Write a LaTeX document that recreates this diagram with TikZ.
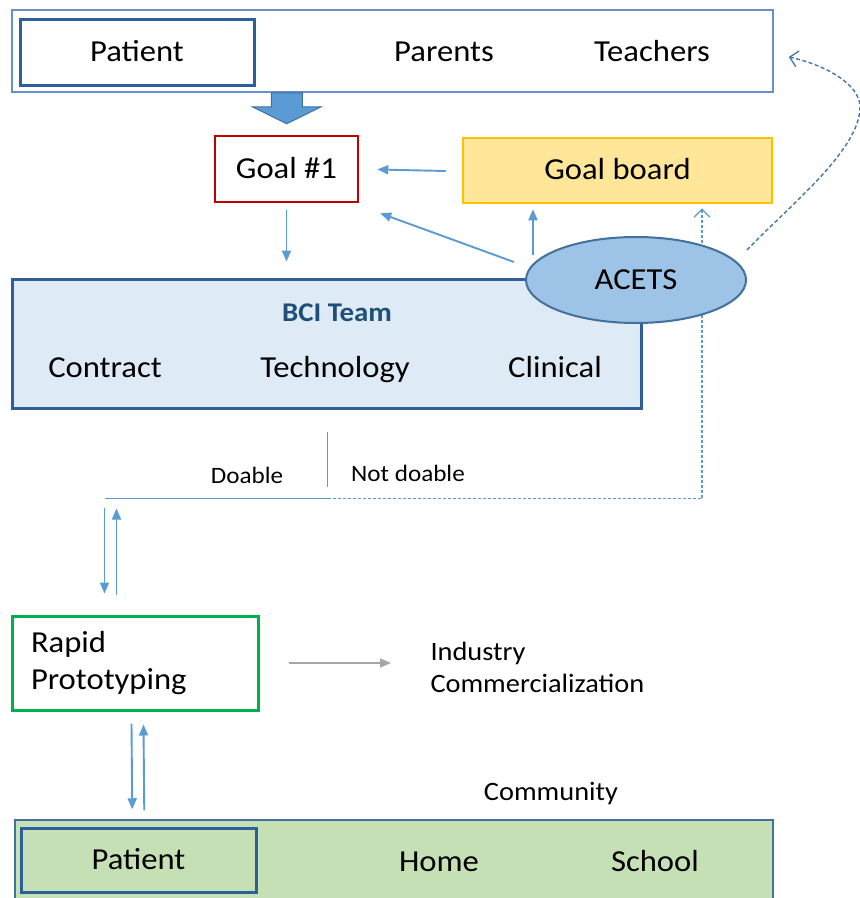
\documentclass[tikz,border=0pt]{standalone}
\usepackage{fontspec}
\setmainfont{Carlito}[FakeStretch=1.07]
\usetikzlibrary{arrows.meta,calc,shapes.geometric}
\definecolor{frameblue}{HTML}{6A8FC6}
\definecolor{darkblue}{HTML}{2F5F98}
\definecolor{goalred}{HTML}{C00000}
\definecolor{gbfill}{HTML}{FFE699}
\definecolor{gbdraw}{HTML}{FFC000}
\definecolor{arrblue}{HTML}{5B9BD5}
\definecolor{ellfill}{HTML}{9DC3E6}
\definecolor{elldraw}{HTML}{41719C}
\definecolor{bcifill}{HTML}{DEEBF7}
\definecolor{bcitext}{HTML}{1F4E79}
\definecolor{protogreen}{HTML}{00B050}
\definecolor{greyarr}{HTML}{A6A6A6}
\definecolor{commfill}{HTML}{C5E0B4}
\tikzset{
  bigfont/.style={font=\fontsize{30.5}{37}\selectfont, text=black},
  big/.style={bigfont, text height=22pt, text depth=4pt},
  small/.style={font=\fontsize{23.5}{28}\selectfont, text=black, text height=17pt, text depth=3pt},
  mid/.style={font=\fontsize{26.5}{31}\selectfont, text=black, text height=19pt, text depth=3.5pt},
  outerbox/.style={draw=frameblue, line width=1.5pt, inner sep=0pt},
  innerbox/.style={draw=darkblue, line width=3pt, inner sep=0pt},
  arr/.style={draw=arrblue, line width=1.9pt, -{Triangle[width=9pt,length=11pt]}},
  dotline/.style={draw=arrblue, line width=1.4pt, dash pattern=on 3pt off 2pt},
  curveline/.style={draw=elldraw!85!arrblue, line width=1.4pt, dash pattern=on 4pt off 2.5pt},
  openhead/.style={-{Straight Barb[length=8pt,width=16pt,line width=1.3pt]}},
  plainline/.style={draw=arrblue, line width=1.7pt},
}
\begin{document}
\begin{tikzpicture}[x=1pt,y=-1pt]
\useasboundingbox (0,0) rectangle (860,898);
\clip (0,0) rectangle (860,898);
\fill[white] (0,0) rectangle (860,898);

% top frame
\node[outerbox, minimum width=761pt, minimum height=82pt] (top) at (392.5,51) {};
\node[innerbox, minimum width=234pt, minimum height=66pt, big] (ptop) at (137,52) {Patient};
\node[big] (parents) at (444,52) {Parents};
\node[big] (teachers) at (652,52) {Teachers};

% block arrow
\filldraw[fill=arrblue, draw=elldraw, line width=1pt]
  ($(top.south west)+(260,0)$) -- ($(top.south west)+(291,0)$) -- ($(top.south west)+(291,14)$)
  -- ($(top.south west)+(310,14)$) -- ($(top.south west)+(275.5,31)$) -- ($(top.south west)+(241,14)$)
  -- ($(top.south west)+(260,14)$) -- cycle;

% goal boxes
\node[draw=goalred, line width=2.5pt, minimum width=143pt, minimum height=66pt, inner sep=0pt, big] (g1) at (286.5,169) {Goal \#1};
\node[draw=gbdraw, fill=gbfill, line width=2.5pt, minimum width=309pt, minimum height=65pt, inner sep=0pt, big] (gb) at (617.5,170.5) {Goal board};

% BCI team
\node[draw=darkblue, fill=bcifill, line width=3pt, minimum width=629pt, minimum height=129pt, inner sep=0pt] (bci) at (326.5,343.5) {};
\node[font=\fontsize{27}{32}\selectfont\bfseries, text=bcitext] (bcit) at (337,313) {BCI Team};
\node[big] (contract) at (105,368) {Contract};
\node[big] (tech) at (335,368) {Technology};
\node[big] (clin) at (555,368) {Clinical};

% decision lines
\coordinate (vtop) at ($(bci.south west)+(317,22)$);
\coordinate (split) at ($(bci.south west)+(317,89)$);
\coordinate (hleft) at ($(bci.south west)+(94,89)$);
\draw[plainline] (vtop) -- ($(split)+(0,-12)$);
\draw[plainline] (hleft) -- (split);
\draw[dotline, openhead] (split) -| ($(gb.south)+(84.5,4)$);
\node[small] (doable) at (247,476) {Doable};
\node[small] (notdoable) at (408,474) {Not doable};

% ACETS ellipse
\node[ellipse, draw=elldraw, fill=ellfill, line width=2pt, minimum width=220pt, minimum height=86pt, inner sep=0pt, big] (acets) at (636,280) {ACETS};

% arrows in upper part
\draw[arr] ($(gb.west)+(-16,0.5)$) -- ($(g1.east)+(18,0.5)$);
\draw[arr] ($(g1.south)+(0,7)$) -- ($(g1.south |- bci.north)+(0,-16)$);
\draw[arr] ($(acets.center)+(-122,-18)$) -- ($(g1.south east)+(21,10)$);
\draw[arr] ($(acets.center)+(-103,-25)$) -- ($(gb.south)+(-84.5,5)$);
\draw[curveline, openhead] ($(acets.center)+(111,-30)$)
  .. controls ($(acets.center)+(154,-75)$) and ($(acets.center)+(224,-130)$) .. ($(acets.center)+(224,-173)$)
  .. controls ($(acets.center)+(224,-197)$) and ($(acets.center)+(186,-216)$) .. ($(top.east)+(15,6)$);

% rapid prototyping
\node[draw=protogreen, line width=3pt, text width=208pt, inner xsep=19pt, inner ysep=0pt, minimum height=94pt, align=left, bigfont] (rp) at (135,663) {Rapid\\Prototyping};
\node[align=left, anchor=west, text=black, font=\fontsize{26.5}{32}\selectfont] (ind) at (427,667.5) {Industry\\Commercialization};
\draw[draw=greyarr, line width=1.7pt, -{Triangle[width=9pt,length=11pt]}] ($(rp.east)+(29,0)$) -- ($(ind.west)+(-36,-4.5)$);

% arrows between doable and rapid prototyping
\draw[arr] ($(hleft)+(0,9)$) -- ($(rp.north west)+(94,-21)$);
\draw[arr] ($(rp.north west)+(106,-20)$) -- ($(hleft)+(12,10)$);

% community
\node[draw=elldraw, fill=commfill, line width=1.5pt, minimum width=758pt, minimum height=90pt, inner sep=0pt] (comm) at (394,865) {};
\node[mid] (community) at (551,793) {Community};
\node[innerbox, minimum width=235pt, minimum height=64pt, big] (pbot) at (138.5,860) {Patient};
\node[big] (home) at (439,862) {Home};
\node[big] (school) at (655,862) {School};

\draw[arr] ($(rp.south west)+(121,12)$) -- ($(comm.north west)+(118,-10)$);
\draw[arr] ($(comm.north west)+(130,-9)$) -- ($(rp.south west)+(133,13)$);
\end{tikzpicture}
\end{document}
